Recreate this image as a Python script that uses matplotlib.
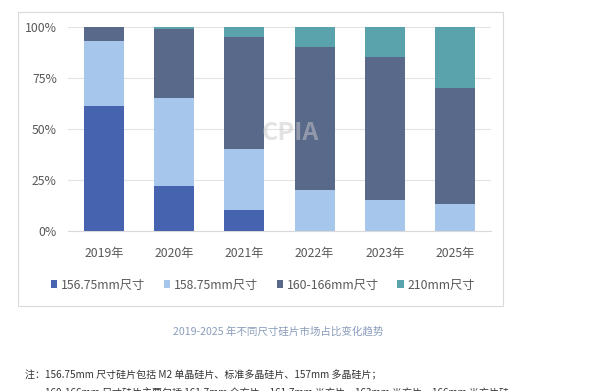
import matplotlib.pyplot as plt
from matplotlib.patches import Rectangle

plt.rcParams['font.family'] = ['Noto Sans CJK SC', 'DejaVu Sans']

# data (shares in %)
years = ['2019年', '2020年', '2021年', '2022年', '2023年', '2025年']
series_names = ['156.75mm尺寸', '158.75mm尺寸', '160-166mm尺寸', '210mm尺寸']
s156 = [61, 22, 10, 0, 0, 0]
s158 = [32, 43, 30, 20, 15, 13]
s166 = [7, 34, 55, 70, 70, 57]
s210 = [0, 1, 5, 10, 15, 30]
colors = ['#4563AE', '#A6C7EB', '#59698A', '#5AA3AD']

fig = plt.figure(figsize=(6, 3.91), dpi=100)
fig.patch.set_facecolor('white')

# outer frame around the chart
fig.patches.append(Rectangle((18 / 600, 1 - 306 / 391), 485 / 600, 294 / 391,
                             transform=fig.transFigure, fill=False,
                             edgecolor='#DADADA', linewidth=0.8))

ax = fig.add_axes([68 / 600, 1 - 230.7 / 391, 423 / 600, 204 / 391])

x = range(len(years))
bottom = [0] * len(years)
for vals, name, c in zip([s156, s158, s166, s210], series_names, colors):
    ax.bar(x, vals, bottom=bottom, width=0.57, color=c, label=name, zorder=3)
    bottom = [b + v for b, v in zip(bottom, vals)]

ax.set_xlim(-0.51, 5.51)
ax.set_ylim(0, 100)
ax.set_yticks([0, 25, 50, 75, 100])
ax.set_yticklabels(['0%', '25%', '50%', '75%', '100%'])
ax.set_xticks(list(x))
ax.set_xticklabels(years)
ax.yaxis.grid(True, color='#E3E3E3', linewidth=0.8, zorder=0)
for s in ax.spines.values():
    s.set_visible(False)
ax.spines['bottom'].set_visible(True)
ax.spines['bottom'].set_color('#D9D9D9')
ax.tick_params(axis='both', length=0, labelsize=8.8, colors='#595959')
ax.tick_params(axis='y', pad=8)
ax.tick_params(axis='x', pad=12)

# faint watermark
ax.text(2.65, 48, 'CPIA', fontsize=18, fontweight='bold', color='#C8C8C8',
        alpha=0.5, ha='center', va='center', zorder=4)

fig.legend(loc='center', bbox_to_anchor=(263 / 600, 1 - 285 / 391), ncol=4,
           frameon=False, fontsize=8.8, handlelength=0.55, handleheight=0.55,
           handletextpad=0.3, columnspacing=1.5, labelcolor='#595959')

fig.text(278 / 600, 1 - 331 / 391, '2019-2025 年不同尺寸硅片市场占比变化趋势',
         ha='center', va='center', fontsize=7.6, color='#8A9DBB')
fig.text(25 / 600, 1 - 375 / 391,
         '注：156.75mm 尺寸硅片包括 M2 单晶硅片、标准多晶硅片、157mm 多晶硅片；',
         ha='left', va='center', fontsize=7.2, color='#333333')
fig.text(45 / 600, 1 - 393 / 391,
         '160-166mm 尺寸硅片主要包括 161.7mm 全方片、161.7mm 半方片、163mm 半方片、166mm 半方片硅',
         ha='left', va='center', fontsize=7.2, color='#333333')

fig.savefig('out.png', dpi=100)
